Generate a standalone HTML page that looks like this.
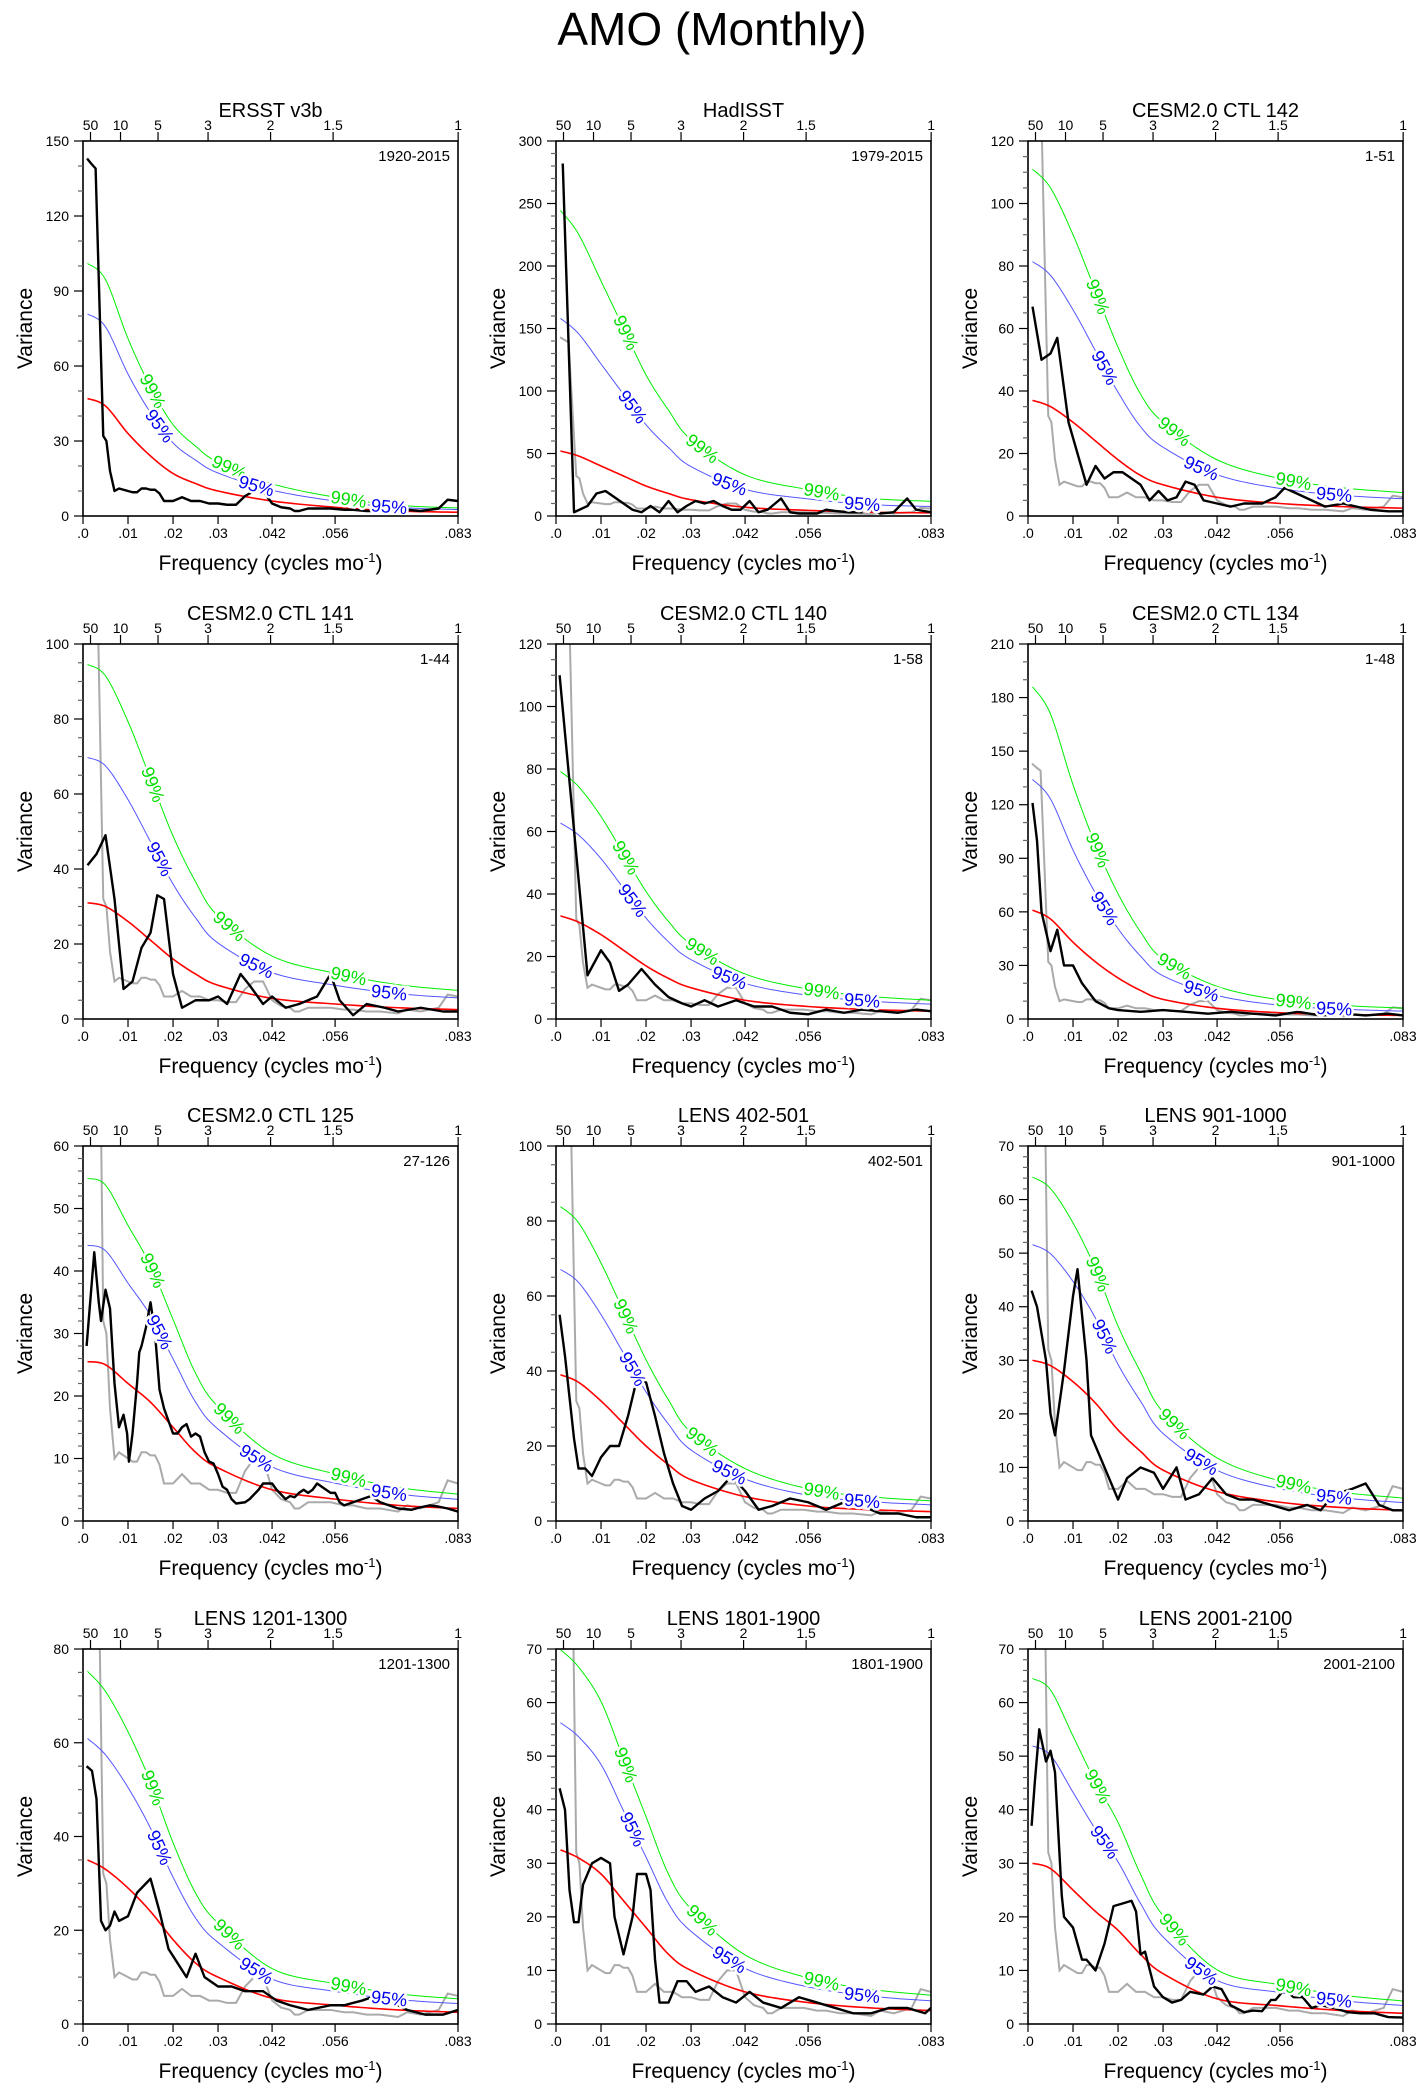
<!DOCTYPE html>
<html><head><meta charset="utf-8"><title>AMO (Monthly)</title>
<style>
html,body{margin:0;padding:0;background:#fff;}
body{width:1424px;height:2091px;overflow:hidden;font-family:"Liberation Sans",Arial,sans-serif;}
svg text{font-family:"Liberation Sans",Arial,sans-serif;}
</style></head>
<body>
<svg id="fig" width="1424" height="2091" viewBox="0 0 1424 2091" xmlns="http://www.w3.org/2000/svg">
<rect x="0" y="0" width="1424" height="2091" fill="#fff"/>
<text x="712" y="45" font-size="46" text-anchor="middle">AMO (Monthly)</text>
</svg>
<script>
// ---- data ----
const panelTitles = ["ERSST v3b","HadISST","CESM2.0 CTL 142","CESM2.0 CTL 141","CESM2.0 CTL 140","CESM2.0 CTL 134","CESM2.0 CTL 125","LENS 402-501","LENS 901-1000","LENS 1201-1300","LENS 1801-1900","LENS 2001-2100"];
const panelRanges = ["1920-2015","1979-2015","1-51","1-44","1-58","1-48","27-126","402-501","901-1000","1201-1300","1801-1900","2001-2100"];
const yMaxes = [150,300,120,100,120,210,60,100,70,80,70,70];
const yMajor = [30,50,20,20,20,30,10,20,10,20,10,10];
const yMinor = [10,10,5,5,5,10,2,5,2,5,2,2];
const showGray = [false,true,true,true,true,true,true,true,true,true,true,true];
const xTickValues = [0,0.01,0.02,0.03,0.042,0.056,0.0833];
const xTickLabels = [".0",".01",".02",".03",".042",".056",".083"];
const periodTicks = [50,10,5,3,2,1.5,1];
const periodLabels = ["50","10","5","3","2","1.5","1"];
const redFreq = [0.001,0.005,0.01,0.015,0.02,0.025,0.03,0.042,0.056,0.07,0.0833];
const redNoise = [
 [47,44,33,24,17,13,10,6,3.5,2,1.5],
 [52,48,40,32,24,18,13,7,4.5,3,2.5],
 [37,35,30,24,18,13,10,6,4,3,2.5],
 [31,30,26,21,16,12,9,5.5,4,3,2.5],
 [33,31,27,22,17,13,10,6,4,3,2.5],
 [61,56,43,32,23,16,11,6,3.5,2.5,2],
 [25.5,25,22,19,15,11,8.5,5,3.5,2.5,2],
 [39,37,32,26,20,15,11,6.5,4,3,2.5],
 [30,29,26,22,17,13,9.5,5.5,3.5,2.5,2],
 [35,33,29,24,18,13,10,5.5,4,3,2.5],
 [32.5,31,28,23,18,13,10,6,4,3,2.5],
 [30,29,25,21,17.5,13,9.4,4.7,3.4,2.5,2]
];
const ratio95 = [1.72,3.04,2.2,2.25,1.9,2.2,1.73,1.72,1.72,1.74,1.73,1.73];
const ratio99 = [2.15,4.7,3.0,3.05,2.4,3.05,2.15,2.15,2.14,2.15,2.15,2.15];
const label99Freq = [0.0155,0.0325,0.059];
const label95Freq = [0.017,0.0385,0.068];
// gray reference spectrum (ERSST)
const grayFreq = [.0009,.0018,.0028,.0045,.0052,.006,.007,.008,.009,.01,.011,.012,.013,.014,.015,.016,.017,.018,.02,.022,.024,.026,.028,.03,.032,.034,.036,.038,.04,.042,.044,.046,.047,.048,.05,.052,.055,.058,.06,.063,.066,.07,.072,.075,.077,.079,.081,.0833];
const grayVals = [143,141,139,32,30,18,10,11,10.5,10,9.5,9.5,11,11,10.5,10.5,9,6,6,7.5,6,6,5,5,4.5,4.5,8,10,10,5,3.5,3,2,2,3,3,3,2.5,2.5,2,2,1.5,2.5,2,2.5,3,6.5,6];
const blackFreq = [
 grayFreq,
 [.0015,.004,.007,.009,.011,.013,.015,.017,.019,.021,.023,.025,.027,.029,.031,.033,.035,.037,.039,.041,.043,.045,.047,.05,.052,.054,.056,.058,.06,.062,.065,.068,.07,.072,.075,.078,.08,.0833],
 [.001,.003,.005,.0065,.009,.011,.013,.015,.017,.019,.021,.023,.025,.027,.029,.031,.033,.035,.037,.039,.042,.045,.048,.052,.055,.057,.06,.063,.066,.07,.073,.076,.08,.0833],
 [.001,.003,.005,.007,.009,.011,.013,.015,.0165,.018,.02,.022,.025,.028,.03,.032,.035,.037,.04,.042,.045,.048,.052,.055,.057,.06,.063,.067,.07,.075,.08,.0833],
 [.0008,.007,.01,.012,.014,.016,.019,.022,.025,.028,.03,.033,.036,.04,.044,.048,.052,.056,.06,.064,.068,.072,.076,.08,.0833],
 [.001,.002,.003,.005,.0065,.008,.01,.012,.015,.018,.02,.025,.03,.035,.04,.045,.05,.055,.06,.065,.07,.075,.08,.0833],
 [.0008,.0025,.0035,.004,.005,.006,.007,.008,.009,.0098,.0102,.011,.012,.0125,.013,.014,.015,.016,.017,.018,.019,.02,.021,.022,.023,.024,.025,.026,.027,.028,.029,.03,.031,.032,.033,.034,.036,.037,.039,.04,.042,.043,.045,.046,.047,.048,.049,.05,.051,.052,.053,.055,.056,.057,.058,.06,.062,.064,.066,.068,.07,.073,.075,.077,.079,.081,.0833],
 [.0008,.002,.004,.005,.0065,.008,.01,.012,.014,.016,.018,.02,.022,.024,.026,.028,.03,.033,.036,.039,.042,.045,.048,.052,.056,.06,.064,.068,.072,.076,.08,.0833],
 [.0008,.002,.004,.005,.006,.008,.01,.011,.013,.014,.016,.018,.02,.022,.025,.028,.03,.033,.035,.038,.041,.044,.047,.05,.054,.058,.062,.065,.068,.072,.075,.078,.081,.0833],
 [.0008,.002,.003,.004,.005,.006,.007,.008,.01,.012,.014,.015,.017,.019,.021,.023,.025,.027,.03,.033,.036,.04,.043,.046,.05,.055,.058,.062,.065,.068,.072,.076,.08,.0833],
 [.0008,.002,.003,.004,.005,.006,.008,.01,.012,.013,.015,.017,.018,.02,.021,.022,.023,.025,.027,.029,.031,.034,.037,.04,.043,.046,.05,.054,.058,.062,.066,.07,.074,.078,.082,.0833],
 [.0008,.0015,.0025,.004,.005,.006,.0075,.008,.01,.012,.013,.015,.017,.019,.021,.023,.024,.025,.026,.028,.03,.032,.034,.036,.039,.041,.043,.045,.048,.05,.052,.054,.055,.057,.059,.061,.063,.065,.068,.071,.074,.077,.08,.0833]
];
const blackVals = [
 grayVals,
 [282,3,8,18,20,15,10,5,3,8,3,12,3,8,12,10,12,8,5,5,12,3,5,14,3,2,2,2,5,4,3,3,5,2,3,14,5,3],
 [67,50,52,57,30,20,10,16,12,14,14,12,10,5,8,5,6,11,10,5,4,3,4,4,6,9,7,5,3,4,3,2,1.5,1.5],
 [41,44,49,32,8,10,19,23,33,32,12,3,5,5,6,4,12,9,4,6,3,4,6,12,5,1,4,3,2,3,2,2],
 [110,14,22,18,9,11,16,11,7,5,4,6,4,6,4,4,2,1.5,3,2,3,2.5,2,3,2.5],
 [121,100,60,38,50,30,30,20,10,6,5,4,5,4,3,4,3,2,4,2,3,2,3,2],
 [28,43,35,32,37,34,22,15,17,14,9.5,14,22,27,28,31,35,30,21,18,16,14,14,15,15.5,13.5,14,13.5,11,9.5,9.2,7.5,5.5,5,3.5,2.8,3,3.5,5,6,6,5,3.5,4,3.8,4.5,5,4.5,5,6,5.5,4.5,4.5,3,2.5,3,3.5,4,3,2.5,2,1.8,2.2,2.5,2.3,2,1.5],
 [55,44,22,14,14,12,17,20,20,28,38,37,28,18,10,4,3,6,8,12,8,3,4,6,5,3,5,4,2,2,1,1],
 [43,40,30,20,16,28,42,47,30,16,12,8,4,8,10,9,6,10,4,5,8,5,4,4,3,2,3,2,5,6,7,3,2,2],
 [55,54,48,22,20,21,24,22,23,28,30,31,24,16,13,10,15,10,8,8,7,7,5,4,3,4,4,5,6,5,3,2,2,3],
 [44,40,25,19,19,26,30,31,30,20,13,20,28,28,25,12,4,4,8,8,6,7,5,4,6,4,3,5,4,3,2,2,3,3,2,3],
 [37,45,55,49,51,47,24,20,18,12,12,10,15,22,22.5,23,21,13,13.5,7,5,4,4.5,6,5.5,7,6.5,3.5,2.2,2.5,2.4,4.5,4.5,6.5,5,5,3,3.5,3,2.2,2,2,1.3,1.2]
];

// ---- layout ----
const NS = "http://www.w3.org/2000/svg";
const svg = document.getElementById("fig");
const colLeft = [83,556,1028];
const rowTop = [141,644,1146,1649];
const PW = 375, PH = 375, FMAX = 0.0833;

function mk(tag, attrs, parent){
  const e = document.createElementNS(NS, tag);
  for (const k in attrs) e.setAttribute(k, attrs[k]);
  (parent||svg).appendChild(e);
  return e;
}
function catmull(pts){
  const out=[];
  for(let i=0;i<pts.length-1;i++){
    const p0=pts[Math.max(0,i-1)],p1=pts[i],p2=pts[i+1],p3=pts[Math.min(pts.length-1,i+2)];
    for(let s=0;s<12;s++){
      const t=s/12,t2=t*t,t3=t2*t;
      const f=(a,b,c,d)=>0.5*((2*b)+(-a+c)*t+(2*a-5*b+4*c-d)*t2+(-a+3*b-3*c+d)*t3);
      out.push([f(p0[0],p1[0],p2[0],p3[0]),f(p0[1],p1[1],p2[1],p3[1])]);
    }
  }
  out.push(pts[pts.length-1]);
  return out;
}

for (let p=0;p<12;p++){
  const L = colLeft[p%3], T = rowTop[Math.floor(p/3)];
  const ymax = yMaxes[p];
  const xs = f => L + f/FMAX*PW;
  const ys = v => T + PH - v/ymax*PH;
  const g = mk("g",{});
  
  

  const clipId = "clip"+p;
  const cp = mk("clipPath",{id:clipId}, g);
  mk("rect",{x:L,y:T,width:PW,height:PH}, cp);
  const plotG = mk("g",{"clip-path":"url(#"+clipId+")"}, g);

  // red noise and confidence curves
  const redPts = catmull(redFreq.map((f,i)=>[xs(f),ys(redNoise[p][i])]));
  const curves = [
    {r:ratio99[p], color:"#00ee00", name:"ci-99-curve", labels:label99Freq, txt:"99%", w:1},
    {r:ratio95[p], color:"#5555ff", name:"ci-95-curve", labels:label95Freq, txt:"95%", w:1, tc:"#0000ee"},
  ];
  if (showGray[p]){
    const gl = mk("polyline",{points:grayFreq.map((f,i)=>xs(f)+","+ys(grayVals[i])).join(" "),fill:"none",stroke:"#aaaaaa","stroke-width":2}, plotG);
    
    
  }
  const redVals = catmull(redFreq.map((f,i)=>[f,redNoise[p][i]]));
  curves.forEach(c=>{
    const pl = mk("polyline",{points:redVals.map(q=>xs(q[0])+","+ys(q[1]*c.r)).join(" "),fill:"none",stroke:c.color,"stroke-width":c.w}, plotG);
    
    
  });
  const rl = mk("polyline",{points:redPts.map(q=>q[0]+","+q[1]).join(" "),fill:"none",stroke:"#ff0000","stroke-width":1.6}, plotG);
  
  
  const bl = mk("polyline",{points:blackFreq[p].map((f,i)=>xs(f)+","+ys(blackVals[p][i])).join(" "),fill:"none",stroke:"#000","stroke-width":2.4,"stroke-linejoin":"round"}, plotG);
  
  
  // contour labels
  curves.forEach(c=>{
    c.labels.forEach(f=>{
      const interp = ff => { for(let i=0;i<redVals.length-1;i++){ if(ff<=redVals[i+1][0]){ const a=redVals[i],b=redVals[i+1]; const t=(ff-a[0])/(b[0]-a[0]); return a[1]+(b[1]-a[1])*t; } } return redVals[redVals.length-1][1]; };
      const x1=xs(f-0.002), y1=ys(interp(f-0.002)*c.r), x2=xs(f+0.002), y2=ys(interp(f+0.002)*c.r);
      const x=xs(f), y=ys(interp(f)*c.r);
      if (y < T+10) return;
      const ang = Math.atan2(y2-y1,x2-x1)*180/Math.PI;
      const t = mk("text",{x:x,y:y+6,"font-size":18,"text-anchor":"middle",fill:c.tc||"#00dd00",stroke:"#fff","stroke-width":5,"paint-order":"stroke",transform:"rotate("+ang+" "+x+" "+y+")"}, plotG);
      t.textContent = c.txt;
      
      
    });
  });

  // frame
  mk("rect",{x:L,y:T,width:PW,height:PH,fill:"none",stroke:"#000","stroke-width":1.6}, g);
  // y ticks
  for (let v=0; v<=ymax+1e-9; v+=yMinor[p]){
    const isMaj = Math.abs(v/yMajor[p]-Math.round(v/yMajor[p]))<1e-6;
    mk("line",{x1:L-(isMaj?9:5),x2:L,y1:ys(v),y2:ys(v),stroke:isMaj?"#000":"#666","stroke-width":1.2}, g);
    if (isMaj){
      const t = mk("text",{x:L-14,y:ys(v)+5,"font-size":14,"text-anchor":"end"}, g);
      t.textContent = String(Math.round(v));
      
      
    }
  }
  // x ticks
  xTickValues.forEach((f,i)=>{
    mk("line",{x1:xs(f),x2:xs(f),y1:T+PH,y2:T+PH+8,stroke:"#000","stroke-width":1.2}, g);
    const t = mk("text",{x:xs(f),y:T+PH+22,"font-size":14,"text-anchor":"middle"}, g);
    t.textContent = xTickLabels[i];
    
    
  });
  // period ticks on top
  periodTicks.forEach((per,i)=>{
    const x = xs(1/(12*per));
    mk("line",{x1:x,x2:x,y1:T,y2:T-9,stroke:"#000","stroke-width":1.2}, g);
    const t = mk("text",{x:x,y:T-11,"font-size":14,"text-anchor":"middle"}, g);
    t.textContent = periodLabels[i];
    
    
  });
  // titles
  const tt = mk("text",{x:L+PW/2,y:T-24,"font-size":20,"text-anchor":"middle"}, g);
  tt.textContent = panelTitles[p];
  
  
  const rt = mk("text",{x:L+PW-8,y:T+20,"font-size":15,"text-anchor":"end"}, g);
  rt.textContent = panelRanges[p];
  
  
  const yt = mk("text",{x:L-58,y:T+PH/2,"font-size":21,"text-anchor":"middle",transform:"rotate(-90 "+(L-58)+" "+(T+PH/2)+")",dy:"7"}, g);
  yt.textContent = "Variance";
  
  
  const xt = mk("text",{x:L+PW/2,y:T+PH+54,"font-size":21,"text-anchor":"middle"}, g);
  
  
  xt.appendChild(document.createTextNode("Frequency (cycles mo"));
  const sup = mk("tspan",{dy:"-8","font-size":13}, xt);
  sup.textContent = "-1";
  const close = mk("tspan",{dy:"8"}, xt);
  close.textContent = ")";
}
</script>
</body></html>
